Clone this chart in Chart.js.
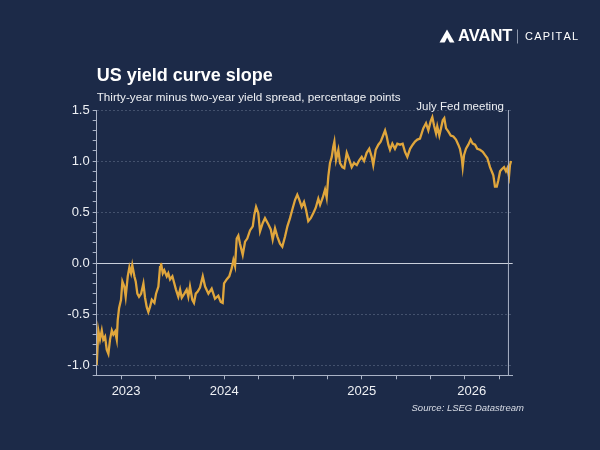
<!DOCTYPE html>
<html>
<head>
<meta charset="utf-8">
<script src="https://cdn.jsdelivr.net/npm/chart.js@4.4.1/dist/chart.umd.min.js"></script>
<style>
  html, body { margin: 0; padding: 0; background: #1c2a48; }
  #wrap { width: 600px; height: 450px; }
</style>
</head>
<body>
<div id="wrap"><canvas id="slope"></canvas></div>
<script>
// Data (x = decimal year, y = 30y minus 2y spread, pp)
const dates = [
  2023.071, 2023.083, 2023.095, 2023.108, 2023.119, 2023.132, 2023.144, 2023.156, 2023.168, 2023.181,
  2023.192, 2023.205, 2023.217, 2023.224, 2023.234, 2023.248, 2023.258, 2023.272, 2023.282, 2023.297,
  2023.309, 2023.321, 2023.330, 2023.345, 2023.355, 2023.367, 2023.379, 2023.394, 2023.411, 2023.423,
  2023.435, 2023.447, 2023.459, 2023.472, 2023.491, 2023.503, 2023.520, 2023.532, 2023.539, 2023.552,
  2023.563, 2023.581, 2023.592, 2023.605, 2023.622, 2023.636, 2023.648, 2023.665, 2023.678, 2023.690,
  2023.709, 2023.726, 2023.738, 2023.750, 2023.767, 2023.779, 2023.792, 2023.806, 2023.823, 2023.843,
  2023.860, 2023.884, 2023.908, 2023.932, 2023.956, 2023.974, 2023.988, 2023.998, 2024.017, 2024.036,
  2024.054, 2024.066, 2024.078, 2024.090, 2024.102, 2024.114, 2024.134, 2024.151, 2024.167, 2024.187,
  2024.207, 2024.218, 2024.231, 2024.247, 2024.260, 2024.279, 2024.296, 2024.320, 2024.338, 2024.352,
  2024.369, 2024.386, 2024.405, 2024.422, 2024.442, 2024.459, 2024.478, 2024.498, 2024.515, 2024.531,
  2024.546, 2024.563, 2024.580, 2024.595, 2024.611, 2024.629, 2024.648, 2024.665, 2024.684, 2024.697,
  2024.716, 2024.733, 2024.745, 2024.757, 2024.769, 2024.782, 2024.793, 2024.801, 2024.813, 2024.830,
  2024.842, 2024.859, 2024.873, 2024.891, 2024.910, 2024.927, 2024.944, 2024.964, 2024.983, 2025.000,
  2025.017, 2025.036, 2025.055, 2025.073, 2025.084, 2025.102, 2025.121, 2025.138, 2025.153, 2025.170,
  2025.182, 2025.194, 2025.206, 2025.223, 2025.242, 2025.259, 2025.279, 2025.298, 2025.315, 2025.332,
  2025.352, 2025.371, 2025.388, 2025.405, 2025.424, 2025.448, 2025.468, 2025.485, 2025.502, 2025.514,
  2025.526, 2025.541, 2025.550, 2025.565, 2025.577, 2025.590, 2025.601, 2025.614, 2025.630, 2025.648,
  2025.667, 2025.686, 2025.703, 2025.715, 2025.728, 2025.735, 2025.745, 2025.759, 2025.776, 2025.793,
  2025.808, 2025.825, 2025.841, 2025.861, 2025.881, 2025.897, 2025.914, 2025.934, 2025.946, 2025.958,
  2025.970, 2025.983, 2025.994, 2026.007, 2026.019, 2026.036, 2026.050, 2026.060, 2026.072, 2026.079,
  2026.087
];
const spread = [
  -1.00, -0.66, -0.75, -0.66, -0.75, -0.72, -0.85, -0.89, -0.75, -0.66,
  -0.70, -0.67, -0.75, -0.56, -0.44, -0.36, -0.18, -0.23, -0.33, -0.13,
  -0.04, -0.10, -0.02, -0.13, -0.18, -0.30, -0.33, -0.30, -0.20, -0.34,
  -0.43, -0.48, -0.43, -0.36, -0.39, -0.30, -0.23, -0.04, 0.00, -0.10,
  -0.07, -0.13, -0.10, -0.16, -0.13, -0.20, -0.26, -0.33, -0.26, -0.34,
  -0.30, -0.26, -0.33, -0.23, -0.36, -0.39, -0.30, -0.28, -0.24, -0.13,
  -0.23, -0.30, -0.25, -0.35, -0.32, -0.38, -0.39, -0.20, -0.16, -0.13,
  -0.05, 0.03, -0.03, 0.24, 0.27, 0.19, 0.08, 0.21, 0.24, 0.32,
  0.36, 0.47, 0.55, 0.49, 0.31, 0.39, 0.44, 0.38, 0.33, 0.23,
  0.34, 0.26, 0.19, 0.16, 0.26, 0.36, 0.44, 0.54, 0.62, 0.67,
  0.62, 0.55, 0.60, 0.52, 0.41, 0.44, 0.49, 0.54, 0.63, 0.57,
  0.64, 0.72, 0.64, 0.85, 0.98, 1.04, 1.14, 1.19, 1.01, 1.11,
  0.98, 0.94, 0.93, 1.08, 1.01, 0.94, 0.98, 0.96, 1.01, 1.04,
  1.00, 1.08, 1.12, 1.04, 0.96, 1.11, 1.16, 1.19, 1.24, 1.30,
  1.24, 1.16, 1.11, 1.17, 1.12, 1.17, 1.16, 1.17, 1.09, 1.04,
  1.12, 1.16, 1.19, 1.21, 1.22, 1.32, 1.37, 1.30, 1.39, 1.43,
  1.35, 1.27, 1.34, 1.25, 1.32, 1.40, 1.42, 1.32, 1.29, 1.25,
  1.24, 1.21, 1.16, 1.12, 1.03, 0.94, 1.06, 1.12, 1.16, 1.21,
  1.17, 1.16, 1.12, 1.11, 1.09, 1.06, 1.03, 0.94, 0.90, 0.86,
  0.75, 0.75, 0.81, 0.90, 0.92, 0.94, 0.90, 0.93, 0.85, 0.96,
  1.00
];

// Axis ticks
const quarterTicks = [2023.25, 2023.5, 2023.75, 2024, 2024.25, 2024.5, 2024.75, 2025, 2025.25, 2025.5, 2025.75, 2026];
const yearLabels = ["2023", "2024", "2025", "2026"];
const yearLabelPos = [2023.285, 2024, 2025, 2025.801];
const yMajorTicks = [-1.0, -0.5, 0.0, 0.5, 1.0, 1.5];
const xMin = 2023.071, xMax = 2026.099;
const yMin = -1.1, yMax = 1.5;

// Annotation
const fedDate = 2026.068;
const fedLabel = "July Fed meeting";

// Colours
const BG = "#1c2a48";
const LINE = "#e0a63c";
const AXIS = "#aab3c6";
const TEXT = "#eef0f4";
const FONT = "'Liberation Sans', Arial, sans-serif";

Chart.defaults.font.family = FONT;

const near = (a, b) => Math.abs(a - b) < 1e-6;
const isMajor = v => yMajorTicks.some(m => near(m, v));

// Background + header/footer text
const decorPlugin = {
  id: "decor",
  beforeDraw(chart) {
    const c = chart.ctx;
    c.save();
    c.fillStyle = BG;
    c.fillRect(0, 0, chart.width, chart.height);
    c.restore();
  },
  afterDatasetsDraw(chart) {
    const c = chart.ctx;
    const area = chart.chartArea;
    const fx = chart.scales.x.getPixelForValue(fedDate);

    c.save();
    // Fed meeting vertical line
    c.strokeStyle = AXIS;
    c.lineWidth = 1;
    c.beginPath();
    c.moveTo(fx, area.top);
    c.lineTo(fx, area.bottom);
    c.stroke();

    c.fillStyle = TEXT;
    c.font = "11.5px " + FONT;
    c.textAlign = "right";
    c.textBaseline = "middle";
    c.fillText(fedLabel, fx - 4.5, area.top - 3);

    // Title and subtitle
    c.textAlign = "left";
    c.font = "bold 18px " + FONT;
    c.fillStyle = "#ffffff";
    c.fillText("US yield curve slope", area.left, 76);
    c.font = "11.7px " + FONT;
    c.fillStyle = TEXT;
    c.fillText("Thirty-year minus two-year yield spread, percentage points", area.left, 97.5);

    // Source
    c.textAlign = "right";
    c.font = "italic 9.5px " + FONT;
    c.fillStyle = "#d9dde6";
    c.fillText("Source: LSEG Datastream", 524, 408);

    // Logo
    c.fillStyle = "#ffffff";
    c.beginPath();
    c.moveTo(439.5, 42.5);
    c.lineTo(447, 29.5);
    c.lineTo(454.5, 42.5);
    c.closePath();
    c.fill();
    c.fillStyle = BG;
    c.beginPath();
    c.moveTo(444.5, 43);
    c.lineTo(447.2, 37.5);
    c.lineTo(450, 43);
    c.closePath();
    c.fill();

    c.fillStyle = "#ffffff";
    c.textAlign = "left";
    c.font = "bold 16.5px " + FONT;
    c.fillText("AVANT", 458, 36.5);
    c.strokeStyle = "#8c96ab";
    c.beginPath();
    c.moveTo(517.5, 29.5);
    c.lineTo(517.5, 43.5);
    c.stroke();
    c.font = "11px " + FONT;
    let cx = 525;
    for (const ch of "CAPITAL") {
      c.fillText(ch, cx, 37);
      cx += c.measureText(ch).width + 1.2;
    }
    c.restore();
  }
};

const ctx = document.getElementById("slope").getContext("2d");

new Chart(ctx, {
  type: "line",
  data: {
    datasets: [{
      label: "30y - 2y spread",
      data: dates.map((d, i) => ({ x: d, y: spread[i] })),
      borderColor: LINE,
      borderWidth: 2.3,
      pointRadius: 0,
      tension: 0,
      fill: false
    }]
  },
  options: {
    responsive: true,
    maintainAspectRatio: false,
    animation: false,
    layout: { padding: { left: 10, right: 87.3, top: 110, bottom: 44.7 } },
    plugins: {
      legend: { display: false },
      tooltip: { enabled: false }
    },
    scales: {
      x: {
        type: "linear",
        min: xMin,
        max: xMax,
        afterBuildTicks: scale => {
          const vals = quarterTicks.slice();
          yearLabelPos.forEach(p => { if (!vals.some(v => near(v, p))) vals.push(p); });
          vals.sort((a, b) => a - b);
          scale.ticks = vals.map(v => ({ value: v }));
        },
        afterFit: scale => { scale.height = 30; },
        ticks: {
          autoSkip: false,
          maxRotation: 0,
          padding: 4,
          color: TEXT,
          font: { size: 13 },
          callback: value => {
            const i = yearLabelPos.findIndex(p => near(p, value));
            return i >= 0 ? yearLabels[i] : "";
          }
        },
        grid: {
          drawOnChartArea: false,
          drawTicks: true,
          tickLength: 4,
          tickColor: c => (c.tick && quarterTicks.some(q => near(q, c.tick.value))) ? AXIS : "transparent"
        },
        border: { color: AXIS, width: 1 }
      },
      y: {
        min: yMin,
        max: yMax,
        afterBuildTicks: scale => {
          const vals = [];
          for (let k = -11; k <= 15; k++) vals.push(k / 10);
          scale.ticks = vals.map(v => ({ value: v }));
        },
        afterFit: scale => { scale.width = 86.7; },
        ticks: {
          autoSkip: false,
          padding: 3,
          color: TEXT,
          font: { size: 13 },
          callback: value => isMajor(value) ? value.toFixed(1) : ""
        },
        grid: {
          lineWidth: 1,
          tickLength: 4,
          tickColor: AXIS,
          color: c => {
            if (!c.tick || !isMajor(c.tick.value)) return "transparent";
            return near(c.tick.value, 0) ? "#c9cfdb" : "rgba(170,182,205,0.28)";
          }
        },
        border: {
          color: AXIS,
          width: 1,
          dash: c => (c.tick && !near(c.tick.value, 0)) ? [2, 2] : []
        }
      }
    }
  },
  plugins: [decorPlugin]
});
</script>
</body>
</html>
